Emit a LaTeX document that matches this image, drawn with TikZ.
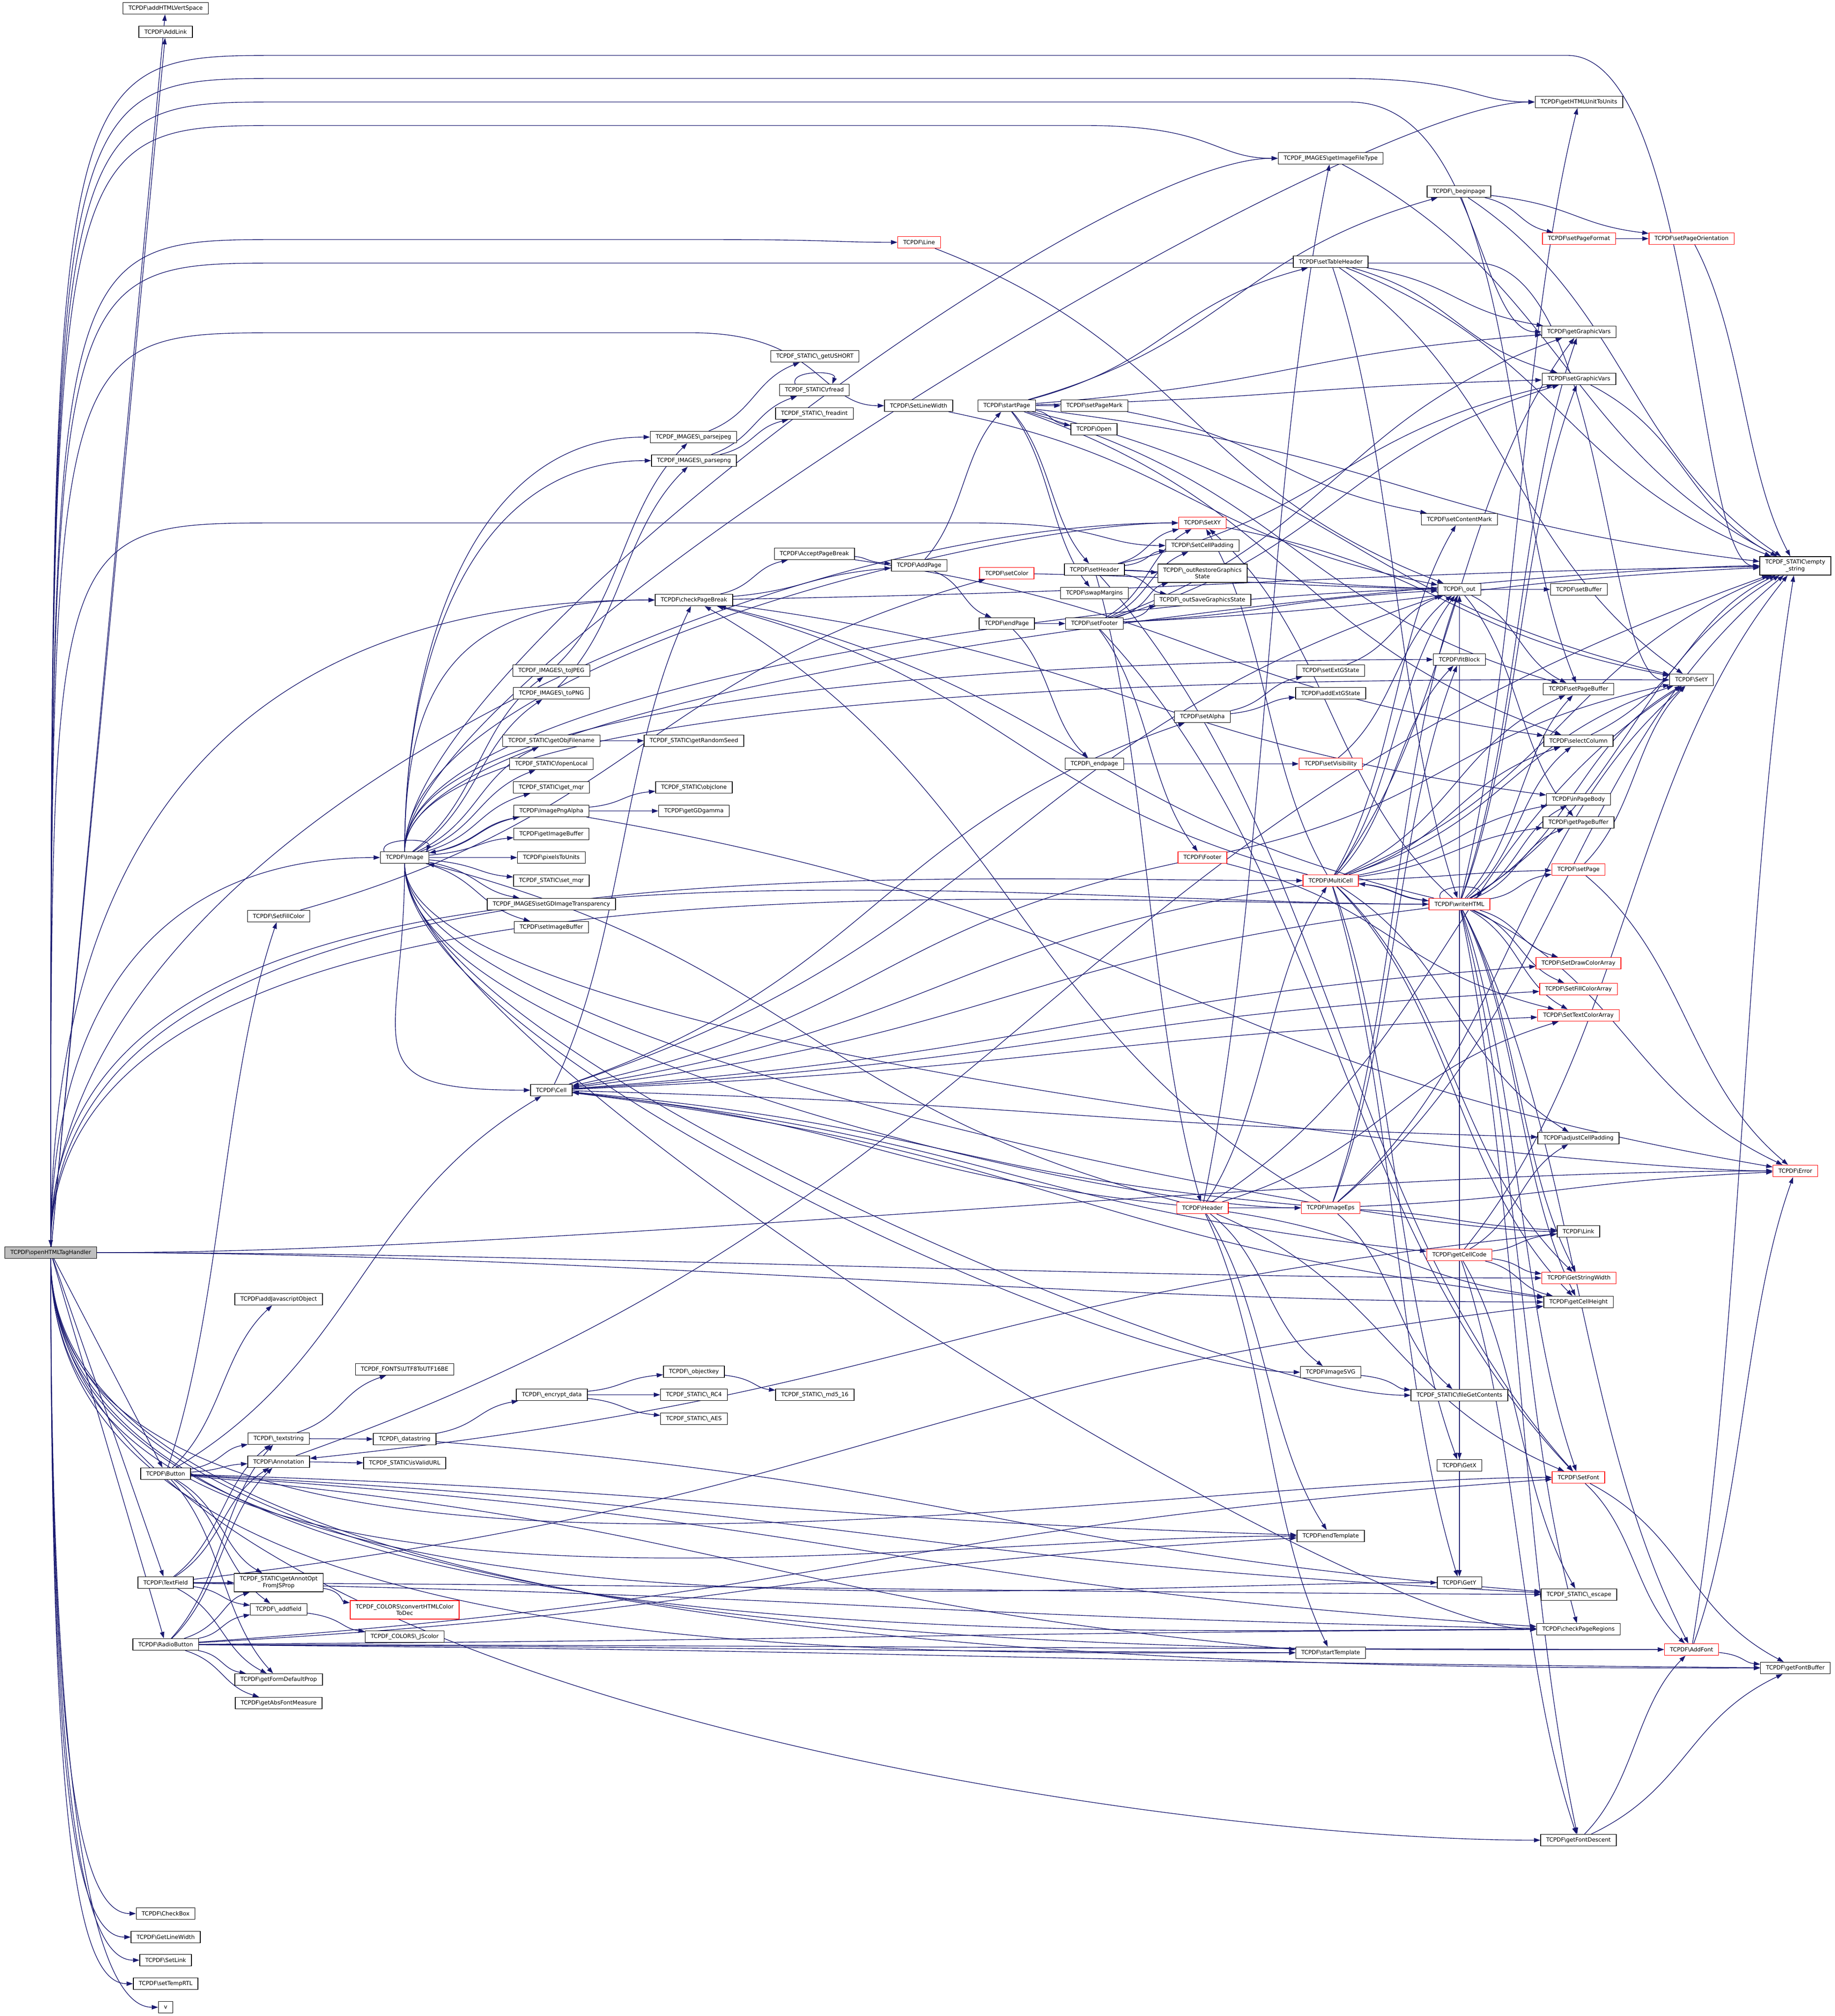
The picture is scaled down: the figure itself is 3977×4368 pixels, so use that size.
\documentclass[tikz,border=0pt]{standalone}
\usepackage{fontspec}
\setmainfont{DejaVu Sans}
\usetikzlibrary{arrows.meta,calc}
\definecolor{edgeblue}{HTML}{191970}
\definecolor{rootgray}{HTML}{BFBFBF}
\newcommand{\bsl}{\textbackslash}
\pgfdeclarelayer{back}
\pgfsetlayers{back,main}
\begin{document}
\begin{tikzpicture}[x=0.36pt,y=0.36pt,
  fn/.style={draw=black,fill=white,line width=0.5pt,inner xsep=4.3pt,inner ysep=0pt,
    minimum height=9pt,align=center,font=\fontsize{4.4}{5.3}\selectfont},
  hot/.style={fn,draw=red},
  rootfn/.style={fn,fill=rootgray},
  twoline/.style={minimum height=14.4pt},
  every edge/.style={draw=edgeblue,line width=0.5pt,-{Triangle[length=5pt,width=3.4pt]},spline},
  spline/.style={to path={let \p1=(\tikztostart), \p2=(\tikztotarget) in (\tikztostart)
    .. controls ({0.5*\x1+0.5*\x2},{0.7*\y1+0.3*\y2}) and ({0.5*\x1+0.5*\x2},{0.3*\y1+0.7*\y2})
    .. (\tikztotarget)}},
  direct/.style={to path={-- (\tikztotarget)}},
  track/.style={to path={let \p1=(\tikztostart.north), \p2=(\tikztotarget.west) in (\p1)
    .. controls (\x1,{#1*0.36pt}) and (\x1,{#1*0.36pt}) .. ({\x1+180pt},{#1*0.36pt})
    -- ({\x2-150pt},{#1*0.36pt})
    .. controls ({\x2-50pt},{#1*0.36pt}) and ({\x2-50pt},\y2) .. (\p2)}},
  fanup/.style={to path={(\tikztostart.north) .. controls +(0,#1) and +(-#1,0) .. (\tikztotarget.west)}},
  fanup/.default=900,
  fandown/.style={to path={(\tikztostart.south) .. controls +(0,-#1) and +(-#1,0) .. (\tikztotarget.west)}},
  fandown/.default=900,
  outtop/.style={fanup=400},
  outbottom/.style={fandown=400},
  fanlow/.style={to path={(\tikztostart.south) .. controls +(0,-#1) and +(-120,0) .. (\tikztotarget.west)}},
  fanback/.style={to path={(\tikztostart.west) .. controls +(-#1,0) and +(0,#1) .. (\tikztotarget.north)}},
  sideway/.style={to path={(\tikztostart.east) .. controls +(#1,0) and +(-#1,0) .. (\tikztotarget.west)}},
  sideway/.default=1000,
  loopup/.style={to path={.. controls +(-12,30) and +(12,30) .. (\tikztotarget)}}]
\useasboundingbox (0,0) rectangle (3977,-4368);

% left column
\node[rootfn] (root) at (110,-2714) {TCPDF\bsl openHTMLTagHandler};
\node[fn] (addvs) at (359,-18) {TCPDF\bsl addHTMLVertSpace};
\node[fn] (addlink) at (359,-69) {TCPDF\bsl AddLink};
\node[fn] (button) at (359,-3193) {TCPDF\bsl Button};
\node[fn] (textfield) at (359,-3429) {TCPDF\bsl TextField};
\node[fn] (radiobutton) at (359,-3563) {TCPDF\bsl RadioButton};
\node[fn] (checkbox) at (359,-4146) {TCPDF\bsl CheckBox};
\node[fn] (getlw) at (359,-4197) {TCPDF\bsl GetLineWidth};
\node[fn] (setlink) at (359,-4247) {TCPDF\bsl SetLink};
\node[fn] (temprtl) at (359,-4298) {TCPDF\bsl setTempRTL};
\node[fn] (v) at (359,-4349) {v};

% forms and annotations
\node[fn] (setfillcolor) at (604,-1985) {TCPDF\bsl SetFillColor};
\node[fn] (addjs) at (604,-2815) {TCPDF\bsl addJavascriptObject};
\node[fn] (textstring) at (604,-3117) {TCPDF\bsl\_textstring};
\node[fn] (annotation) at (604,-3167) {TCPDF\bsl Annotation};
\node[fn,twoline] (annotopt) at (604,-3429) {TCPDF\_STATIC\bsl getAnnotOpt\\FromJSProp};
\node[fn] (addfield) at (604,-3487) {TCPDF\bsl\_addfield};
\node[fn] (formprop) at (604,-3639) {TCPDF\bsl getFormDefaultProp};
\node[fn] (absfont) at (604,-3690) {TCPDF\bsl getAbsFontMeasure};
\node[fn] (utf16) at (877,-2967) {TCPDF\_FONTS\bsl UTF8ToUTF16BE};
\node[fn] (datastring) at (877,-3118) {TCPDF\bsl\_datastring};
\node[fn] (validurl) at (877,-3170) {TCPDF\_STATIC\bsl isValidURL};
\node[hot,twoline] (htmlcolor) at (877,-3488) {TCPDF\_COLORS\bsl convertHTMLColor\\ToDec};
\node[fn] (jscolor) at (877,-3546) {TCPDF\_COLORS\bsl\_JScolor};

% images
\node[fn] (image) at (877,-1858) {TCPDF\bsl Image};
\node[fn] (tojpeg) at (1195,-1453) {TCPDF\_IMAGES\bsl\_toJPEG};
\node[fn] (topng) at (1195,-1502) {TCPDF\_IMAGES\bsl\_toPNG};
\node[fn] (objfilename) at (1195,-1605) {TCPDF\_STATIC\bsl getObjFilename};
\node[fn] (fopenlocal) at (1195,-1655) {TCPDF\_STATIC\bsl fopenLocal};
\node[fn] (getmqr) at (1195,-1706) {TCPDF\_STATIC\bsl get\_mqr};
\node[fn] (pngalpha) at (1195,-1757) {TCPDF\bsl ImagePngAlpha};
\node[fn] (getimgbuf) at (1195,-1807) {TCPDF\bsl getImageBuffer};
\node[fn] (pxunits) at (1195,-1858) {TCPDF\bsl pixelsToUnits};
\node[fn] (setmqr) at (1195,-1908) {TCPDF\_STATIC\bsl set\_mqr};
\node[fn] (gdtransp) at (1195,-1959) {TCPDF\_IMAGES\bsl setGDImageTransparency};
\node[fn] (setimgbuf) at (1195,-2009) {TCPDF\bsl setImageBuffer};
\node[fn] (cell) at (1195,-2362) {TCPDF\bsl Cell};
\node[fn] (encrypt) at (1196,-3022) {TCPDF\bsl\_encrypt\_data};
\node[fn] (parsejpeg) at (1503,-947) {TCPDF\_IMAGES\bsl\_parsejpeg};
\node[fn] (parsepng) at (1504,-998) {TCPDF\_IMAGES\bsl\_parsepng};
\node[fn] (checkpb) at (1504,-1300) {TCPDF\bsl checkPageBreak};
\node[fn] (randomseed) at (1504,-1605) {TCPDF\_STATIC\bsl getRandomSeed};
\node[fn] (objclone) at (1504,-1706) {TCPDF\_STATIC\bsl objclone};
\node[fn] (gdgamma) at (1504,-1757) {TCPDF\bsl getGDgamma};
\node[fn] (objectkey) at (1504,-2972) {TCPDF\bsl\_objectkey};
\node[fn] (rc4) at (1504,-3022) {TCPDF\_STATIC\bsl\_RC4};
\node[fn] (aes) at (1504,-3074) {TCPDF\_STATIC\bsl\_AES};
\node[fn] (ushort) at (1766,-772) {TCPDF\_STATIC\bsl\_getUSHORT};
\node[fn] (rfread) at (1765,-845) {TCPDF\_STATIC\bsl rfread};
\node[fn] (freadint) at (1765,-896) {TCPDF\_STATIC\bsl\_freadint};
\node[fn] (accept) at (1765,-1200) {TCPDF\bsl AcceptPageBreak};
\node[fn] (md5) at (1766,-3022) {TCPDF\_STATIC\bsl\_md5\_16};

% pages
\node[hot] (line) at (1992,-525) {TCPDF\bsl Line};
\node[fn] (setlw) at (1991,-879) {TCPDF\bsl SetLineWidth};
\node[fn] (addpage) at (1992,-1225) {TCPDF\bsl AddPage};
\node[fn] (startpage) at (2182,-879) {TCPDF\bsl startPage};
\node[hot] (setcolor) at (2182,-1242) {TCPDF\bsl setColor};
\node[fn] (endpage) at (2182,-1351) {TCPDF\bsl endPage};
\node[fn] (pagemark) at (2372,-879) {TCPDF\bsl setPageMark};
\node[fn] (open) at (2371,-930) {TCPDF\bsl Open};
\node[fn] (setheader) at (2372,-1234) {TCPDF\bsl setHeader};
\node[fn] (swapmargins) at (2372,-1285) {TCPDF\bsl swapMargins};
\node[fn] (setfooter) at (2372,-1351) {TCPDF\bsl setFooter};
\node[fn] (endpg) at (2372,-1655) {TCPDF\bsl\_endpage};
\node[hot] (setxy) at (2606,-1133) {TCPDF\bsl SetXY};
\node[fn] (cellpad) at (2606,-1182) {TCPDF\bsl SetCellPadding};
\node[fn,twoline] (restoregs) at (2606,-1242) {TCPDF\bsl\_outRestoreGraphics\\State};
\node[fn] (savegs) at (2606,-1300) {TCPDF\bsl\_outSaveGraphicsState};
\node[fn] (setalpha) at (2606,-1553) {TCPDF\bsl setAlpha};
\node[hot] (footer) at (2606,-1858) {TCPDF\bsl Footer};
\node[hot] (header) at (2606,-2617) {TCPDF\bsl Header};

% output and cells
\node[fn] (imgtype) at (2884,-343) {TCPDF\_IMAGES\bsl getImageFileType};
\node[fn] (thead) at (2884,-567) {TCPDF\bsl setTableHeader};
\node[fn] (setextgs) at (2884,-1453) {TCPDF\bsl setExtGState};
\node[fn] (addextgs) at (2884,-1502) {TCPDF\bsl addExtGState};
\node[hot] (setvis) at (2884,-1655) {TCPDF\bsl setVisibility};
\node[hot] (multicell) at (2884,-1908) {TCPDF\bsl MultiCell};
\node[hot] (imageeps) at (2884,-2617) {TCPDF\bsl ImageEps};
\node[fn] (imagesvg) at (2884,-2973) {TCPDF\bsl ImageSVG};
\node[fn] (endtpl) at (2884,-3328) {TCPDF\bsl endTemplate};
\node[fn] (starttpl) at (2884,-3581) {TCPDF\bsl startTemplate};
\node[fn] (beginpage) at (3162,-415) {TCPDF\bsl\_beginpage};
\node[fn] (contentmark) at (3163,-1125) {TCPDF\bsl setContentMark};
\node[fn] (pdfout) at (3163,-1277) {TCPDF\bsl\_out};
\node[fn] (fitblock) at (3163,-1429) {TCPDF\bsl fitBlock};
\node[hot] (writehtml) at (3163,-1959) {TCPDF\bsl writeHTML};
\node[hot] (cellcode) at (3163,-2719) {TCPDF\bsl getCellCode};
\node[fn] (filegc) at (3163,-3023) {TCPDF\_STATIC\bsl fileGetContents};
\node[fn] (getx) at (3163,-3175) {TCPDF\bsl GetX};
\node[fn] (gety) at (3163,-3429) {TCPDF\bsl GetY};
\node[fn] (htmlunit) at (3422,-221) {TCPDF\bsl getHTMLUnitToUnits};
\node[hot] (pgformat) at (3422,-517) {TCPDF\bsl setPageFormat};
\node[fn] (getgv) at (3422,-719) {TCPDF\bsl getGraphicVars};
\node[fn] (setgv) at (3422,-821) {TCPDF\bsl setGraphicVars};
\node[fn] (setbuffer) at (3422,-1277) {TCPDF\bsl setBuffer};
\node[fn] (setpagebuf) at (3421,-1493) {TCPDF\bsl setPageBuffer};
\node[fn] (selectcol) at (3421,-1605) {TCPDF\bsl selectColumn};
\node[fn] (inpagebody) at (3421,-1732) {TCPDF\bsl inPageBody};
\node[fn] (getpagebuf) at (3421,-1782) {TCPDF\bsl getPageBuffer};
\node[hot] (setpage) at (3421,-1884) {TCPDF\bsl setPage};
\node[hot] (drawcolor) at (3421,-2087) {TCPDF\bsl SetDrawColorArray};
\node[hot] (fillcolorarr) at (3421,-2143) {TCPDF\bsl SetFillColorArray};
\node[hot] (textcolor) at (3421,-2200) {TCPDF\bsl SetTextColorArray};
\node[fn] (adjpad) at (3421,-2466) {TCPDF\bsl adjustCellPadding};
\node[fn] (link) at (3421,-2668) {TCPDF\bsl Link};
\node[hot] (strwidth) at (3422,-2769) {TCPDF\bsl GetStringWidth};
\node[fn] (cellheight) at (3421,-2821) {TCPDF\bsl getCellHeight};
\node[hot] (setfont) at (3421,-3201) {TCPDF\bsl SetFont};
\node[fn] (escape) at (3422,-3455) {TCPDF\_STATIC\bsl\_escape};
\node[fn] (pageregions) at (3421,-3530) {TCPDF\bsl checkPageRegions};
\node[fn] (fontdescent) at (3421,-3987) {TCPDF\bsl getFontDescent};
\node[hot] (pgorient) at (3666,-517) {TCPDF\bsl setPageOrientation};
\node[fn] (sety) at (3666,-1473) {TCPDF\bsl SetY};
\node[hot] (addfont) at (3666,-3574) {TCPDF\bsl AddFont};
\node[fn,twoline] (empty) at (3891,-1226) {TCPDF\_STATIC\bsl empty\\\_string};
\node[hot] (error) at (3891,-2537) {TCPDF\bsl Error};
\node[fn] (fontbuffer) at (3891,-3614) {TCPDF\bsl getFontBuffer};

\begin{pgfonlayer}{back}
% calls of the root
\path (root) edge[direct] (addvs) edge[direct] (addlink) edge[direct] (button)
  edge[direct] (textfield) edge[direct] (radiobutton)
  edge[track=-120] (empty) edge[track=-170] (htmlunit) edge[track=-221] (getgv)
  edge[track=-272] (imgtype) edge[track=-519] (line) edge[track=-570] (sety)
  edge[track=-721] (setlw) edge[track=-1133] (cellpad) edge[fanup] (setxy)
  edge[fanup] (checkpb) edge[fanup=500] (image) edge[fanup] (multicell) edge[fanup] (writehtml)
  edge[sideway] (error) edge[sideway] (strwidth) edge[sideway] (cellheight)
  edge[fanlow=1100] (checkbox) edge[fanlow=1150] (getlw) edge[fanlow=1200] (setlink)
  edge[fanlow=1250] (temprtl) edge[fanlow=1300] (v) edge[fandown] (setfont) edge[fandown] (endtpl)
  edge[fandown] (gety) edge[fandown] (pageregions) edge[fandown] (starttpl) edge[fandown] (addfont)
  edge[fandown] (fontbuffer) edge[fandown] (fontdescent);
\path (writehtml) edge[fanback=1000] (root);
% images
\path (image) edge (tojpeg) edge (topng) edge (objfilename) edge (fopenlocal) edge (getmqr)
  edge (pngalpha) edge (getimgbuf) edge (pxunits) edge (setmqr) edge (gdtransp) edge (setimgbuf)
  edge[outtop] (parsejpeg) edge[outtop] (parsepng) edge[outtop] (imgtype) edge[outtop] (htmlunit)
  edge[outtop] (empty) edge[outtop] (checkpb) edge[outtop] (fitblock) edge[outtop] (sety)
  edge[outtop] (setxy) edge[outtop] (pdfout) edge[outbottom] (cell) edge[outbottom] (link)
  edge[outbottom] (error) edge[outbottom] (imageeps) edge[outbottom] (imagesvg)
  edge[outbottom] (filegc) edge[outbottom] (pageregions);
\path ([xshift=-16pt]image.north) edge[loopup] ([xshift=17pt]image.north);
\path (pngalpha) edge (objclone) edge (gdgamma) edge (image) edge (error);
\path (objfilename) edge (randomseed);
\path (tojpeg) edge (parsejpeg);
\path (topng) edge (parsepng);
\path (parsejpeg) edge (ushort);
\path (parsepng) edge (rfread) edge (freadint);
\path ([xshift=-15pt]rfread.north) edge[loopup] ([xshift=14pt]rfread.north);
% pages
\path (checkpb) edge (accept) edge (addpage) edge (empty) edge (inpagebody);
\path (accept) edge (addpage) edge (selectcol);
\path (addpage) edge (startpage) edge (endpage);
\path (startpage) edge (pagemark) edge (open) edge (beginpage) edge (setheader) edge (swapmargins)
  edge (thead) edge (getgv) edge (setgv) edge (empty) edge (sety) edge (selectcol) edge (setpagebuf);
\path (endpage) edge (setfooter) edge (endpg);
\path (endpg) edge (setvis);
\path (pagemark) edge (contentmark);
\path (beginpage) edge (pgformat) edge (pgorient) edge (empty) edge (setpagebuf);
\path (pgformat) edge (pgorient);
\path (pgorient) edge (empty);
\path (thead) edge (empty) edge (getgv) edge (setgv) edge (writehtml) edge (sety);
\path (setheader) edge (setxy) edge (cellpad) edge (restoregs) edge (savegs) edge (setgv)
  edge (setfont) edge (header) edge (pdfout);
\path (setfooter) edge (setxy) edge (cellpad) edge (restoregs) edge (savegs) edge (getgv)
  edge (setgv) edge (pdfout) edge (empty) edge (setfont) edge (footer);
\path (header) edge (imgtype) edge (imageeps) edge (imagesvg) edge (image) edge (starttpl)
  edge (endtpl) edge (cellheight) edge (textcolor) edge (setfont) edge (cell) edge (multicell)
  edge (sety);
\path (footer) edge (textcolor) edge (sety) edge (cell);
\path (setalpha) edge (setextgs) edge (addextgs);
\path (setextgs) edge (pdfout);
\path (setvis) edge (pdfout);
\path (line) edge (pdfout);
\path (setlw) edge (pdfout);
\path (setfillcolor) edge (setcolor);
\path (setcolor) edge (pdfout);
\path (pdfout) edge (setbuffer) edge (setpagebuf) edge (getpagebuf);
\path (setxy) edge (sety);
\path (setpage) edge (sety) edge (error);
\path (selectcol) edge (empty);
\path (imgtype) edge (empty);
\path (setgv) edge (empty);
% cells and html
\path (multicell) edge (pdfout) edge (setpagebuf) edge (sety) edge (selectcol) edge (inpagebody)
  edge (getpagebuf) edge (setpage) edge (cell) edge (checkpb) edge (writehtml) edge (cellheight)
  edge (adjpad) edge (strwidth) edge (getx) edge (gety) edge (setxy) edge (empty)
  edge (contentmark) edge (getgv) edge (fitblock);
\path (writehtml) edge (multicell) edge (checkpb) edge (cell) edge (htmlunit) edge (empty)
  edge (setpage) edge (sety) edge (setpagebuf) edge (getpagebuf) edge (inpagebody)
  edge (selectcol) edge (drawcolor) edge (fillcolorarr) edge (textcolor) edge (setfont)
  edge (strwidth) edge (cellheight) edge (error) edge (pdfout) edge (setxy) edge[direct] (getx)
  edge[direct] (gety) edge (pageregions) edge (fontdescent) edge (setgv) edge (getgv)
  edge (addfont);
\path ([xshift=-15pt]writehtml.north) edge[loopup] ([xshift=14pt]writehtml.north);
\path (cell) edge (adjpad) edge (cellheight) edge (checkpb) edge (textcolor) edge (drawcolor)
  edge (fillcolorarr) edge (pdfout) edge (cellcode) edge (setalpha);
\path (cellcode) edge (adjpad) edge (link) edge (strwidth) edge (cellheight) edge (escape)
  edge (empty) edge (fontdescent);
\path (imageeps) edge (error) edge (link) edge (filegc) edge (fitblock) edge (pdfout)
  edge (empty) edge (checkpb) edge (sety) edge (cell);
\path (imagesvg) edge (filegc);
\path (link) edge (annotation);
\path (annotation) edge (validurl) edge (empty);
\path (textstring) edge (utf16) edge (datastring);
\path (datastring) edge (encrypt) edge (escape);
\path (encrypt) edge (objectkey) edge (rc4) edge (aes);
\path (objectkey) edge (md5);
% form fields
\path (button) edge (addjs) edge (setfillcolor) edge (cell) edge (textstring) edge (annotation)
  edge (addfield) edge (annotopt) edge (formprop) edge (pageregions) edge (starttpl)
  edge (endtpl) edge (escape);
\path (textfield) edge (annotopt) edge (addfield) edge (formprop) edge (annotation)
  edge (textstring) edge (pageregions) edge (escape) edge (cellheight);
\path (radiobutton) edge (annotopt) edge (addfield) edge (formprop) edge (absfont)
  edge (annotation) edge (textstring) edge (starttpl) edge (endtpl) edge (setfont)
  edge (pageregions) edge (addfont) edge (fontbuffer);
\path (addfield) edge (jscolor);
\path (annotopt) edge (htmlcolor);
% fonts
\path (setfont) edge (addfont) edge (fontbuffer);
\path (addfont) edge (fontbuffer) edge (error) edge (empty);
\path (fontdescent) edge (addfont) edge (fontbuffer);
\end{pgfonlayer}
\end{tikzpicture}
\end{document}
